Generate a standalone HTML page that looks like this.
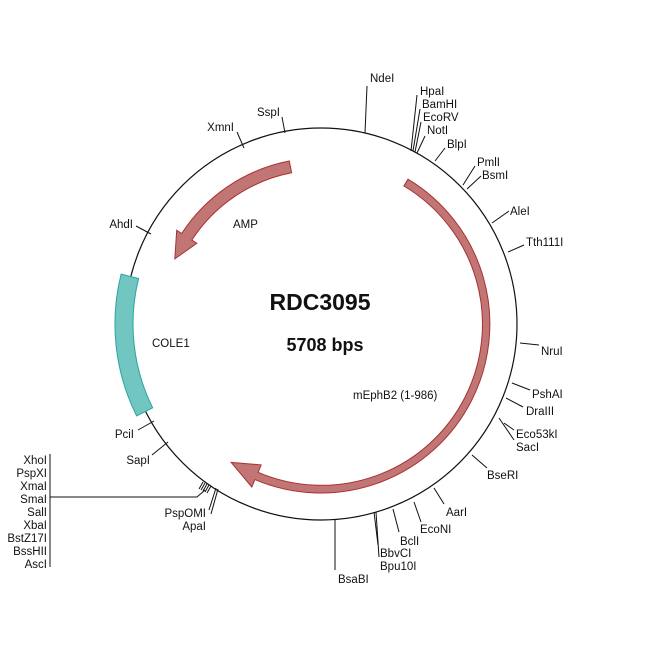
<!DOCTYPE html>
<html><head><meta charset="utf-8"><style>
html,body{margin:0;padding:0;background:#fff}
svg{display:block}
text{font-family:"Liberation Sans",Arial,sans-serif;font-size:11.5px;fill:#111}
.r{text-anchor:end}
line,polyline{stroke:#111;stroke-width:1;fill:none}
</style></head><body>
<svg width="650" height="650" viewBox="0 0 650 650" xmlns="http://www.w3.org/2000/svg">
<circle cx="321" cy="324" r="196" fill="none" stroke="#111" stroke-width="1.2"/>
<!-- COLE1 -->
<path d="M152.7,407.8 L136.6,415.9 A206,206 0 0 1 121.1,274.1 L138.6,278.5 A188,188 0 0 0 152.7,407.8 Z" fill="#72c6c2" stroke="#2aa5a0" stroke-width="1"/>
<!-- AMP -->
<path d="M289.3,161 A166,166 0 0 0 181.7,233.5 L176.7,230.3 L174.8,258.9 L196.8,243.3 L191.8,240.1 A154,154 0 0 1 291.6,172.8 Z" fill="#c27575" stroke="#a83232" stroke-width="1"/>
<!-- mEphB2 -->
<path d="M408,179.2 A169,169 0 0 1 254.9,479.6 L251.8,487 L231.1,462.4 L261.2,464.9 L258.1,472.3 A161,161 0 0 0 403.9,186 Z" fill="#c27575" stroke="#a83232" stroke-width="1"/>

<text x="320" y="310" text-anchor="middle" style="font-size:23px;font-weight:bold">RDC3095</text>
<text x="325" y="351" text-anchor="middle" style="font-size:18px;font-weight:bold">5708 bps</text>
<text x="233" y="228">AMP</text>
<text x="152" y="347">COLE1</text>
<text x="353" y="399">mEphB2 (1-986)</text>

<!-- ticks -->
<polyline points="365,133 367,86"/><text x="370" y="82">NdeI</text>
<polyline points="411,151 417,95"/><text x="420" y="95">HpaI</text>
<polyline points="413,151 420,109"/><text x="422" y="108">BamHI</text>
<polyline points="415,152 421,122"/><text x="423" y="121">EcoRV</text>
<polyline points="417,153 425,136"/><text x="427" y="134">NotI</text>
<polyline points="435,161 445,148"/><text x="447" y="148">BlpI</text>
<polyline points="463,185 475,166"/><text x="477" y="166">PmlI</text>
<polyline points="467,189 481,176"/><text x="482" y="179">BsmI</text>
<polyline points="492,223 509,211"/><text x="510" y="215">AleI</text>
<polyline points="508,252 524,245"/><text x="526" y="246">Tth111I</text>
<polyline points="520,343 539,345"/><text x="541" y="355">NruI</text>
<polyline points="512,383 530,390"/><text x="532" y="398">PshAI</text>
<polyline points="506,398 523,407"/><text x="526" y="415">DraIII</text>
<polyline points="499,418 514,440"/><polyline points="504,423 514,430"/><text x="516" y="438">Eco53kI</text><text x="516" y="451">SacI</text>
<polyline points="472,455 487,468"/><text x="487" y="479">BseRI</text>
<polyline points="434,488 444,504"/><text x="446" y="516">AarI</text>
<polyline points="414,502 421,522"/><text x="420" y="533">EcoNI</text>
<polyline points="393,509 399,532"/><text x="400" y="545">BclI</text>
<polyline points="374,512 378,545"/><polyline points="376,512 379,557"/><text x="380" y="557">BbvCI</text><text x="380" y="570">Bpu10I</text>
<polyline points="335,519 335,570"/><text x="338" y="583">BsaBI</text>
<polyline points="218,489 211,514"/><polyline points="216,488 209,510"/><text class="r" x="206" y="517">PspOMI</text><text class="r" x="206" y="530">ApaI</text>
<polyline points="203,482 199,489"/><polyline points="205,483 201,490"/><polyline points="207,484 203,491"/><polyline points="209,485 205,492"/><polyline points="211,486 207,493"/>
<polyline points="205,490 197,497 50,497"/>
<line x1="50" y1="454" x2="50" y2="567"/>
<text class="r" x="47" y="464">XhoI</text>
<text class="r" x="47" y="477">PspXI</text>
<text class="r" x="47" y="490">XmaI</text>
<text class="r" x="47" y="503">SmaI</text>
<text class="r" x="47" y="516">SalI</text>
<text class="r" x="47" y="529">XbaI</text>
<text class="r" x="47" y="542">BstZ17I</text>
<text class="r" x="47" y="555">BssHII</text>
<text class="r" x="47" y="568">AscI</text>
<polyline points="168,442 152,455"/><text class="r" x="150" y="464">SapI</text>
<polyline points="154,421 138,430"/><text class="r" x="134" y="438">PciI</text>
<polyline points="151,234 136,226"/><text class="r" x="133" y="228">AhdI</text>
<polyline points="244,148 237,132"/><text class="r" x="234" y="131">XmnI</text>
<polyline points="285,133 282,117"/><text class="r" x="280" y="116">SspI</text>
</svg>
</body></html>
